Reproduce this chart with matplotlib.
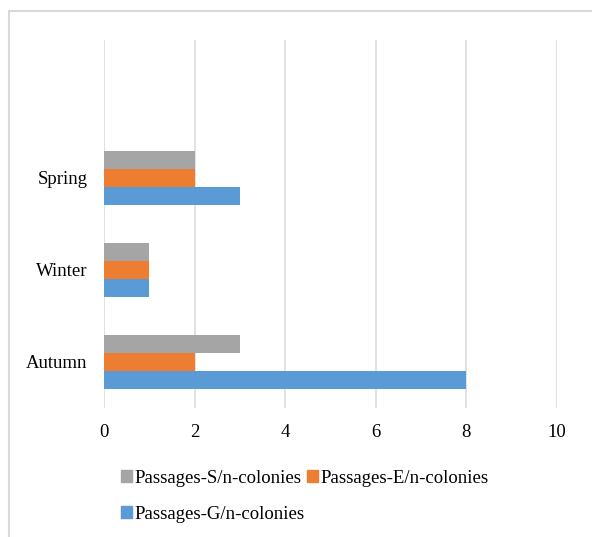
import matplotlib
matplotlib.use("Agg")
import matplotlib.pyplot as plt
from matplotlib.patches import Patch, Rectangle
import numpy as np

seasons = ["Autumn", "Winter", "Spring"]
series_names = ["Passages-G/n-colonies", "Passages-E/n-colonies", "Passages-S/n-colonies"]
passages_g = [8, 1, 3]
passages_e = [2, 1, 2]
passages_s = [3, 1, 2]
colors = ["#5B9BD5", "#ED7D31", "#A5A5A5"]
x_ticks = [0, 2, 4, 6, 8, 10]

plt.rcParams["font.family"] = ["Liberation Serif", "DejaVu Serif"]

W, H = 592, 537
fig = plt.figure(figsize=(W / 100, H / 100), dpi=100)

# outer chart frame
fig.patches.append(Rectangle((9 / W, -0.05), 1.2, (H - 11) / H + 0.05,
                             transform=fig.transFigure, fill=False,
                             edgecolor="#d9d9d9", linewidth=1.5))

ax = fig.add_axes([104 / W, 1 - 408 / H, (556.7 - 104) / W, (408 - 40) / H])

y = np.arange(len(seasons))
h = 0.193
for i, vals in enumerate([passages_g, passages_e, passages_s]):
    ax.barh(y + (i - 1) * h, vals, height=h, color=colors[i],
            label=series_names[i], zorder=3)

ax.set_xlim(0, 10)
ax.set_ylim(-0.5, 3.5)
ax.set_xticks(x_ticks)
ax.set_yticks(y)
ax.set_yticklabels(seasons)
for s in ax.spines.values():
    s.set_visible(False)
ax.xaxis.grid(True, color="#d9d9d9", linewidth=1.1, zorder=0)
ax.tick_params(axis="both", length=0, labelsize=13.5, colors="black")
ax.tick_params(axis="x", pad=11.5)
ax.tick_params(axis="y", pad=12)

handles = [Patch(color=colors[2]), Patch(color=colors[0]), Patch(color=colors[1])]
labels = [series_names[2], series_names[0], series_names[1]]
fig.legend(handles, labels, loc="upper left",
           bbox_to_anchor=(121 / W, 1 - 470 / H), ncol=2, frameon=False,
           fontsize=13.5, handlelength=0.6, handleheight=0.6,
           handletextpad=0.12, columnspacing=0.12, labelspacing=1.0,
           borderpad=0, borderaxespad=0)

fig.savefig("out.png", dpi=100)
